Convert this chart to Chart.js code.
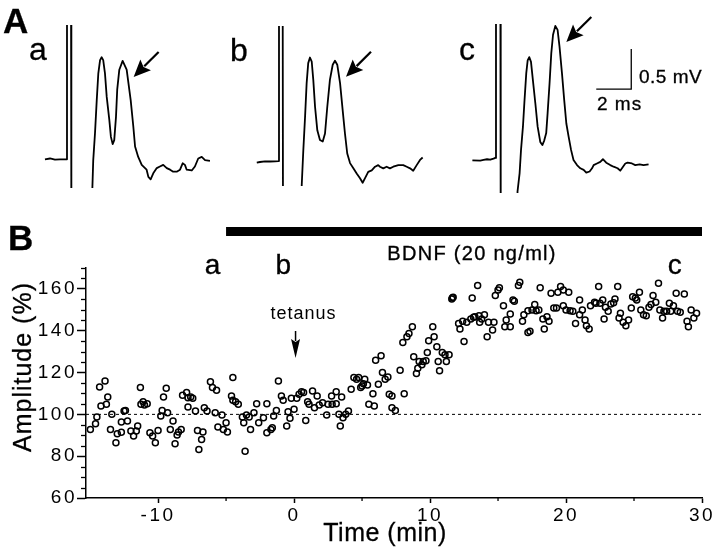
<!DOCTYPE html>
<html>
<head>
<meta charset="utf-8">
<title>BDNF and tetanus: field potential amplitude</title>
<script src="https://cdn.jsdelivr.net/npm/chart.js@4.4.1/dist/chart.umd.min.js"></script>
<style>
  html, body { margin: 0; padding: 0; background: #fff; }
  #figure { position: relative; width: 720px; height: 552px; overflow: hidden; background: #fff; }
  #figure canvas { position: absolute; }
  #labels { position: absolute; left: 0; top: 0; pointer-events: none; }
  #labels text { font-family: 'Liberation Sans', Arial, sans-serif; fill: #000; stroke: #000; stroke-width: 0.3; white-space: pre; }
</style>
</head>
<body>
<div id="figure">
  <canvas id="traceA" width="193" height="188" style="left:39px;top:0"></canvas>
  <canvas id="traceB" width="193" height="186" style="left:251px;top:0"></canvas>
  <canvas id="traceC" width="193" height="193" style="left:468px;top:0"></canvas>
  <canvas id="timeCourse" width="720" height="352" style="left:0;top:200px"></canvas>
  <svg id="labels" width="720" height="552">
    <text x="3" y="33" font-size="35" font-weight="bold">A</text>
    <text x="29" y="60" font-size="32">a</text>
    <text x="230" y="61" font-size="32">b</text>
    <text x="459" y="60" font-size="32">c</text>
    <text x="639" y="83" font-size="19" letter-spacing="0.5">0.5 mV</text>
    <text x="597" y="110" font-size="19" letter-spacing="1">2 ms</text>
    <text x="8" y="250" font-size="35" font-weight="bold">B</text>
    <text transform="translate(31,367) rotate(-90)" text-anchor="middle" font-size="25" letter-spacing="1">Amplitude (%)</text>
    <text x="385" y="541" text-anchor="middle" font-size="25" letter-spacing="0.5">Time (min)</text>
  </svg>
</div>
<script>
// ---- Panel A: example responses (ms from stimulus, mV from baseline) ----
const traceA_ms = [-1.26,-0.97,-0.69,-0.40,-0.02, 0.00,0.23,0.25,1.40,
  1.45,1.50,1.60,1.70,1.79,1.89,1.98,2.07,2.17,2.27,
  2.42,2.51,2.61,2.70,2.80,2.87,2.99,3.18,
  3.41,3.64,3.79,3.89,4.07,4.27,4.55,4.65,4.78,4.93,
  5.13,5.31,5.50,5.70,5.89,6.07,6.27,6.46,6.61,6.74,
  6.84,7.13,7.31,7.50,7.70,7.89,8.17];
const traceA_mV = [0,0.01,-0.005,0,0, 2.2,2.2,-1.0,-1.0,
  -0.36,-0.01,0.325,0.74,1.075,1.24,1.275,1.24,1.075,0.78,
  0.49,0.28,0.19,0.24,0.53,0.87,1.12,1.23,
  1.12,0.74,0.41,0.16,0.03,-0.07,-0.13,-0.22,-0.25,-0.175,
  -0.11,-0.09,-0.07,-0.11,-0.13,-0.155,-0.155,-0.13,-0.05,-0.07,
  -0.13,-0.14,-0.09,0.01,0.03,-0.01,-0.02];

const traceB_ms = [-1.27,-1.09,-0.80,-0.51,-0.23,-0.04, 0.00,0.21,0.23,1.25,
  1.30,1.39,1.49,1.58,1.67,1.77,1.87,1.96,2.06,2.19,
  2.34,2.50,2.63,2.76,2.91,3.07,3.20,3.33,3.49,3.64,
  3.77,3.90,4.06,4.25,4.44,4.63,4.78,4.91,5.10,5.30,
  5.49,5.67,5.77,5.96,6.15,6.34,6.53,6.82,7.10,7.30,
  7.49,7.67,7.87,8.06,8.21];
const traceB_mV = [-0.015,-0.006,0.003,0,0.003,0.006, 2.2,2.2,-1.0,-1.0,
  -0.29,0.14,0.56,0.98,1.23,1.30,1.25,1.02,0.685,0.39,
  0.27,0.25,0.35,0.685,1.02,1.21,1.26,1.21,0.98,0.64,
  0.35,0.10,-0.02,-0.085,-0.15,-0.21,-0.265,-0.21,-0.13,-0.11,
  -0.065,-0.045,-0.065,-0.085,-0.065,-0.085,-0.065,-0.045,-0.045,-0.065,
  -0.085,-0.115,-0.045,0.02,0.05];

const traceC_ms = [-1.35,-0.90,-0.71,-0.51,-0.33,-0.14,-0.04, 0.00,0.25,0.27,1.20,
  1.23,1.35,1.43,1.54,1.63,1.73,1.81,1.90,2.00,2.11,
  2.25,2.38,2.53,2.65,2.76,2.87,2.95,3.06,3.16,3.26,
  3.39,3.52,3.63,3.77,3.90,4.02,4.15,4.29,4.43,4.63,
  4.82,5.01,5.16,5.35,5.49,5.58,5.77,5.96,6.11,6.30,
  6.53,6.72,6.95,7.10,7.26,7.39,7.52,7.77,7.96,8.21,
  8.43,8.72];
const traceC_mV = [-0.01,-0.015,-0.006,0.003,-0.003,0.01,0.02, 2.2,2.2,-1.0,-1.0,
  -0.40,-0.17,0.12,0.41,0.74,1.08,1.24,1.28,1.22,0.99,
  0.70,0.41,0.22,0.18,0.24,0.33,0.58,0.95,1.33,1.56,
  1.67,1.62,1.41,1.08,0.74,0.45,0.285,0.12,-0.006,-0.07,
  -0.11,-0.13,-0.165,-0.15,-0.11,-0.07,-0.05,-0.03,0.003,-0.04,
  -0.07,-0.09,-0.11,-0.14,-0.09,-0.05,-0.04,-0.05,-0.07,-0.06,
  -0.07,-0.06];

const scaleBarMs = 2;
const scaleBarMv = 0.5;

// ---- Panel B: amplitude time course ----
const timeMin = [
  -14.98,-14.6,-14.5,-14.3,-14.2,-13.9,-13.8,-13.7,-13.5,-13.4,
  -13.1,-13.0,-12.7,-12.7,-12.5,-12.4,-12.25,-12.0,-11.8,-11.6,
  -11.5,-11.3,-11.26,-11.1,-11.0,-10.8,-10.6,-10.4,-10.2,-10.0,
  -9.8,-9.7,-9.6,-9.4,-9.3,-9.1,-8.9,-8.75,-8.6,-8.5,
  -8.3,-8.2,-7.9,-7.8,-7.8,-7.6,-7.45,-7.25,-7.1,-7.0,
  -6.8,-6.7,-6.6,-6.4,-6.15,-6.0,-5.8,-5.7,-5.6,-5.3,
  -5.2,-5.0,-4.9,-4.6,-4.5,-4.5,-4.3,-4.1,-3.8,-3.7,
  -3.6,-3.5,-3.3,-3.2,-2.95,-2.75,-2.6,-2.25,-2.0,-2.0,
  -1.7,-1.6,-1.5,-1.3,-1.15,-0.93,-0.8,-0.54,-0.44,-0.3,
  -0.2,0.0,0.2,0.37,0.55,0.7,0.86,1.0,1.1,1.36,
  1.5,1.7,1.85,2.1,2.4,2.5,2.76,2.8,3.1,3.1,
  3.3,3.4,3.5,3.6,3.8,4.0,4.2,4.4,4.6,4.75,
  4.9,5.0,5.1,5.2,5.4,5.5,5.8,5.9,6.0,6.2,
  6.4,6.5,6.7,6.9,7.0,7.2,7.2,7.45,7.8,8.0,
  8.1,8.3,8.45,8.7,8.8,9.0,9.1,9.2,9.4,9.5,
  9.7,9.8,9.9,10.2,10.3,10.5,10.6,10.7,10.9,11.1,
  11.2,11.4,11.6,11.65,11.7,12.1,12.2,12.4,12.5,12.7,
  13.0,13.1,13.2,13.3,13.5,13.6,13.65,13.8,14.0,14.2,
  14.3,14.6,14.7,14.8,15.0,15.1,15.4,15.5,15.6,15.9,
  15.9,16.1,16.2,16.5,16.6,16.8,16.9,17.2,17.2,17.35,
  17.5,17.7,17.8,18.0,18.1,18.3,18.4,18.6,18.75,18.9,
  19.1,19.3,19.4,19.6,19.8,19.8,20.0,20.2,20.3,20.5,
  20.7,21.0,21.0,21.2,21.4,21.5,21.7,21.8,22.1,22.2,
  22.4,22.5,22.7,22.8,22.9,23.1,23.3,23.5,23.6,23.8,
  23.9,24.0,24.2,24.4,24.6,24.8,24.9,25.1,25.2,25.4,
  25.5,25.7,25.9,26.1,26.25,26.4,26.6,26.8,26.9,27.1,
  27.2,27.4,27.6,27.7,27.9,28.1,28.2,28.4,28.7,28.9,
  29.0,29.2,29.4,29.6];
const amplitudePct = [
  92.8,95.5,98.7,113.1,104,116,104.8,108.3,92.8,100,
  86.4,90.7,91.5,96.3,101.6,101.9,96.8,92,89.6,92,
  94.4,112.8,104.8,106,104.5,105.1,91.2,89.6,86.4,92.3,
  99.2,101.9,108.3,112.5,100.8,92.8,96.8,85.9,90.1,91.6,
  92.8,109.1,110.4,108,103.5,108.3,107.7,101.6,92.3,83.2,
  88,91.6,103.2,101.6,115.6,112.8,100.8,111.5,93.9,99.7,
  92.8,96,91.6,108.8,117.6,106.7,106,104.8,98.7,96,
  82.4,99.7,98.7,92.8,100.8,105.1,96,98.4,105.1,91.2,
  92.8,93.6,99.2,101.9,116,108.8,106.7,94.4,101.2,98.1,
  107.7,102.4,107.7,109.6,110.8,110.4,97.1,106,104.8,111.2,
  103.2,108.8,104.5,105.6,99.7,104.8,108.8,104.8,110.8,105.1,
  100,94.4,108.3,98.4,100,101.6,112,117.6,116.8,117.6,
  112.8,113.6,114.7,116.8,114.1,104.8,109.9,104,125.9,114.4,
  128,120,116.8,117.9,109.6,108.8,103.2,101.9,121.1,134.4,
  109.9,137.1,138.7,141.9,127.5,119.5,122.1,125.3,123.7,125.3,
  125.6,129.6,135.2,141.9,137.1,132.3,125.3,120.8,129.6,128.5,
  125.3,128.5,155.2,155.8,156,143.5,140.8,144.5,134.9,144,
  145.6,155.7,146.4,146.7,161.6,147.2,144,145.6,147.7,137.1,
  144,140.3,144,156.8,159.5,160.5,152,141.9,145.1,141.9,
  148,154.7,154.1,161.6,163.2,144.5,147.7,139.2,149.6,139.7,
  149.9,152.5,149.6,149.9,160.5,145.6,140.8,146.7,144.5,157.9,
  150.9,150.9,158.4,161.1,159.5,152,149.9,158.4,149.6,149.3,
  143.5,147.7,154.7,149.9,145.1,142.4,140.8,152,153.6,153.1,
  161.1,153.1,154.7,145.6,151.2,149.3,152.8,153.4,155.2,161.1,
  146.1,148.3,144,142.4,145.1,150.9,156.3,155.7,154.7,158.4,
  149.9,147.7,147.2,151.2,152.5,156.8,153.6,162.7,149.9,146.1,
  149.3,149.3,153.1,149.3,152,157.9,149.3,148.8,157.6,144.5,
  141.9,149.9,146.1,148.3];

const timeTicks = [-10, 0, 10, 20, 30];
const timeMinorTicks = [-5, 5, 15, 25];
const amplitudeTicks = [60, 80, 100, 120, 140, 160];
const controlLevel = 100;
const bdnfStart = -5;
const bdnfEnd = 30;
const bdnfLabel = 'BDNF (20 ng/ml)';
const tetanusTime = 0;
const sampleLabels = ['a', 'b', 'c'];
const sampleTimes = [-6, -0.8, 28];

const FONT = "'Liberation Sans', Arial, sans-serif";
Chart.defaults.font.family = FONT;
Chart.defaults.color = '#000';

function drawArrow(ctx, x1, y1, x2, y2, headLen, headHalf, width) {
  const ang = Math.atan2(y2 - y1, x2 - x1);
  const cos = Math.cos(ang), sin = Math.sin(ang);
  const bx = x2 - headLen * cos, by = y2 - headLen * sin;
  ctx.lineWidth = width;
  ctx.beginPath();
  ctx.moveTo(x1, y1);
  ctx.lineTo(bx + 2 * cos, by + 2 * sin);
  ctx.stroke();
  ctx.beginPath();
  ctx.moveTo(x2, y2);
  ctx.lineTo(bx + headHalf * sin, by - headHalf * cos);
  ctx.lineTo(bx + 3 * cos, by + 3 * sin);
  ctx.lineTo(bx - headHalf * sin, by + headHalf * cos);
  ctx.closePath();
  ctx.fill();
}

// text with a thin outline, to match the heavier printed lettering
function boldText(ctx, str, x, y) {
  ctx.fillText(str, x, y);
  ctx.lineWidth = 0.35;
  ctx.strokeText(str, x, y);
}

// arrow pointing at the second (population spike) peak
const peakArrow = {
  id: 'peakArrow',
  afterDatasetsDraw(chart) {
    const ds = chart.data.datasets[0].data;
    let idx = -1;
    for (let i = 1; i < ds.length - 1; i++) {
      if (ds[i].x > 1 && ds[i].y > 0.8 && ds[i].y > ds[i - 1].y && ds[i].y >= ds[i + 1].y) idx = i;
    }
    if (idx < 0) return;
    const pt = chart.getDatasetMeta(0).data[idx];
    const tipX = pt.x + 11, tipY = pt.y + 16;
    const ctx = chart.ctx;
    ctx.save();
    ctx.fillStyle = '#000';
    ctx.strokeStyle = '#000';
    drawArrow(ctx, tipX + 25, tipY - 25, tipX, tipY, 17, 7.5, 2.2);
    ctx.restore();
  }
};

function drawTrace(id, ms, mV, box, withScaleBar) {
  const datasets = [{
    data: ms.map((t, i) => ({ x: t, y: mV[i] })),
    showLine: true,
    borderColor: '#000',
    borderWidth: 1.8,
    borderJoinStyle: 'round',
    pointRadius: 0,
    clip: 0
  }];
  if (withScaleBar) {
    const cornerMs = 7.73, cornerMv = 0.88;
    datasets.push({
      data: [
        { x: cornerMs - scaleBarMs, y: cornerMv },
        { x: cornerMs, y: cornerMv },
        { x: cornerMs, y: cornerMv + scaleBarMv }
      ],
      showLine: true,
      borderColor: '#000',
      borderWidth: 1.3,
      pointRadius: 0,
      clip: false
    });
  }
  new Chart(document.getElementById(id), {
    type: 'scatter',
    data: { datasets: datasets },
    options: {
      responsive: false,
      animation: false,
      events: [],
      layout: { padding: { top: box.top, left: 0, right: 0, bottom: 0 } },
      plugins: { legend: { display: false }, tooltip: { enabled: false } },
      scales: {
        x: { type: 'linear', display: false, min: -1.6, max: 9.43 },
        y: { type: 'linear', display: false, min: box.yMin, max: box.yMax }
      }
    },
    plugins: [peakArrow]
  });
}

drawTrace('traceA', traceA_ms, traceA_mV, { top: 25, yMin: -0.359, yMax: 1.679 }, false);
drawTrace('traceB', traceB_ms, traceB_mV, { top: 26, yMin: -0.306, yMax: 1.694 }, false);
drawTrace('traceC', traceC_ms, traceC_mV, { top: 24, yMin: -0.419, yMax: 1.694 }, true);

// bar, labels, tetanus arrow and minor ticks for panel B
const panelDecor = {
  id: 'panelDecor',
  beforeDraw(chart) {
    chart.ctx.letterSpacing = '2.5px';
  },
  afterDraw(chart) {
    const { ctx, chartArea: area, scales: { x, y } } = chart;
    ctx.save();
    ctx.fillStyle = '#000';
    ctx.strokeStyle = '#000';

    // minor ticks
    ctx.lineWidth = 1.3;
    for (let v = 65; v <= 170; v += 5) {
      if (amplitudeTicks.includes(v)) continue;
      const py = Math.round(y.getPixelForValue(v)) + 0.5;
      ctx.beginPath();
      ctx.moveTo(area.left - 5, py);
      ctx.lineTo(area.left, py);
      ctx.stroke();
    }
    timeMinorTicks.forEach(v => {
      const px = x.getPixelForValue(v);
      ctx.beginPath();
      ctx.moveTo(px, area.bottom);
      ctx.lineTo(px, area.bottom + 3);
      ctx.stroke();
    });

    // BDNF application bar
    const bx1 = x.getPixelForValue(bdnfStart);
    const bx2 = x.getPixelForValue(bdnfEnd);
    ctx.fillRect(bx1, area.top - 41, bx2 - bx1, 9);
    ctx.textAlign = 'center';
    ctx.textBaseline = 'alphabetic';
    ctx.letterSpacing = '1.3px';
    ctx.font = '20px ' + FONT;
    boldText(ctx, bdnfLabel, (bx1 + bx2) / 2 + 8, area.top - 8);

    // sample time labels
    ctx.letterSpacing = '0px';
    ctx.font = '28px ' + FONT;
    sampleTimes.forEach((t, i) => {
      boldText(ctx, sampleLabels[i], x.getPixelForValue(t), area.top + 6);
    });

    // tetanus arrow
    const tx = x.getPixelForValue(tetanusTime) + 1.5;
    ctx.letterSpacing = '1px';
    ctx.font = '18px ' + FONT;
    ctx.fillText('tetanus', tx + 8, area.top + 51);
    drawArrow(ctx, tx, area.top + 63, tx, area.top + 90, 19, 4.5, 1.5);
    ctx.restore();
  }
};

const tickFont = { family: FONT, size: 19 };

new Chart(document.getElementById('timeCourse'), {
  type: 'scatter',
  data: {
    datasets: [
      {
        type: 'line',
        data: [{ x: -15.3, y: controlLevel }, { x: 30, y: controlLevel }],
        borderColor: '#000',
        borderWidth: 1,
        borderDash: [3, 3],
        pointRadius: 0,
        order: 2
      },
      {
        data: timeMin.map((t, i) => ({ x: t, y: amplitudePct[i] })),
        pointStyle: 'circle',
        pointRadius: 3,
        borderWidth: 1.5,
        borderColor: '#000',
        backgroundColor: 'rgba(0,0,0,0)',
        order: 1
      }
    ]
  },
  options: {
    responsive: false,
    animation: false,
    events: [],
    layout: { padding: { top: 68, right: 18, left: 0, bottom: 0 } },
    plugins: { legend: { display: false }, tooltip: { enabled: false } },
    scales: {
      x: {
        type: 'linear',
        min: -15.3,
        max: 30,
        afterFit: s => { s.height = 54; },
        afterBuildTicks: s => { s.ticks = timeTicks.map(v => ({ value: v })); },
        grid: { drawOnChartArea: false, drawTicks: true, tickLength: 5, tickColor: '#000', tickWidth: 1.5 },
        border: { color: '#000', width: 1.5 },
        ticks: { color: '#000', font: tickFont, padding: 1, maxRotation: 0, autoSkip: false }
      },
      y: {
        type: 'linear',
        min: 60,
        max: 170,
        afterFit: s => { s.width = 86; },
        afterBuildTicks: s => { s.ticks = amplitudeTicks.map(v => ({ value: v })); },
        grid: { drawOnChartArea: false, drawTicks: true, tickLength: 9, tickColor: '#000', tickWidth: 1.5 },
        border: { color: '#000', width: 1.5 },
        ticks: { color: '#000', font: tickFont, padding: 0, autoSkip: false }
      }
    }
  },
  plugins: [panelDecor]
});
</script>
</body>
</html>
